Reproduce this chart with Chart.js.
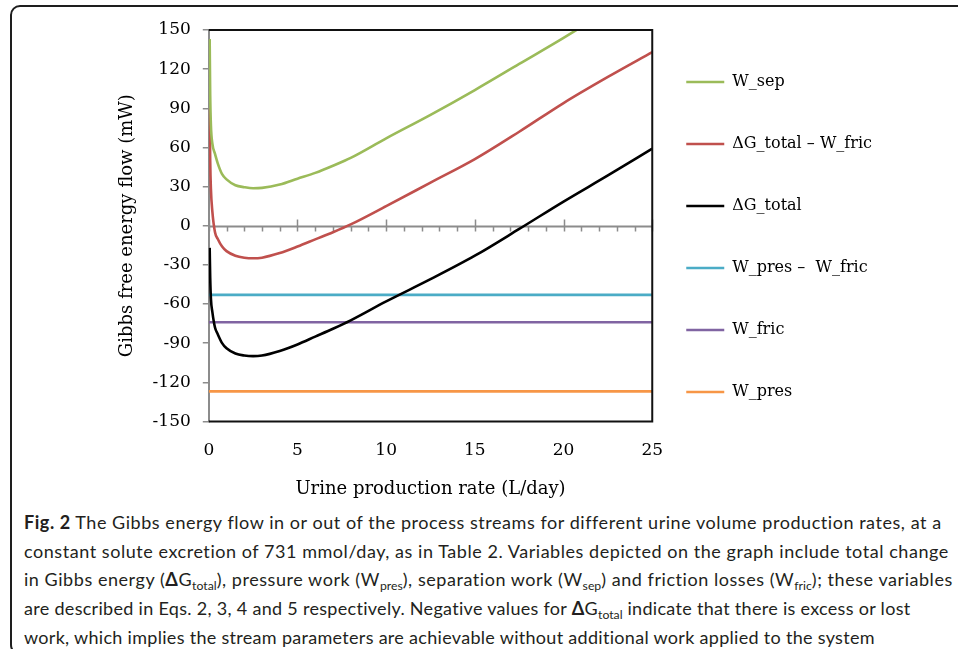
<!DOCTYPE html>
<html>
<head>
<meta charset="utf-8">
<script src="https://cdn.jsdelivr.net/npm/chart.js@4"></script>
<style>
  html, body { margin: 0; padding: 0; background: #fff; overflow: hidden; }
  body { width: 958px; height: 649px; position: relative; }
  #frame {
    position: absolute; left: 10px; top: 5px; width: 1000px; height: 646px;
    border: 2px solid #1e1e1e; border-radius: 10px;
  }
  #chartBox { position: absolute; left: 0; top: 0; width: 958px; height: 501px; }
  #caption {
    position: absolute; left: 24px; top: 508px;
    font-family: Lato, "Noto Sans", sans-serif; font-size: 18px; line-height: 28.7px;
    letter-spacing: 0.55px; color: #231f20; white-space: nowrap;
  }
  #caption div { height: 28.7px; }
  #caption .tight { letter-spacing: 0.3px; }
  #caption sub { font-size: 0.68em; line-height: 0; vertical-align: baseline; position: relative; top: 0.3em; letter-spacing: 0; }
</style>
</head>
<body>
<div id="frame"></div>
<div id="chartBox"><canvas id="gibbs-chart"></canvas></div>
<div id="caption">
  <div><b>Fig. 2</b> The Gibbs energy flow in or out of the process streams for different urine volume production rates, at a</div>
  <div>constant solute excretion of 731 mmol/day, as in Table 2. Variables depicted on the graph include total change</div>
  <div>in Gibbs energy (<b>Δ</b>G<sub>total</sub>), pressure work (W<sub>pres</sub>), separation work (W<sub>sep</sub>) and friction losses (W<sub>fric</sub>); these variables</div>
  <div class="tight">are described in Eqs. 2, 3, 4 and 5 respectively. Negative values for <b>Δ</b>G<sub>total</sub> indicate that there is excess or lost</div>
  <div class="tight">work, which implies the stream parameters are achievable without additional work applied to the system</div>
</div>
<script>
// urine production rate (L/day)
const rate = [0.05, 0.08, 0.12, 0.2, 0.35, 0.5, 0.75, 1, 1.5, 2, 2.5, 3, 4, 5, 6, 7, 8, 10, 12.5, 15, 17.5, 20, 22.5, 25];
const wSep =        [143, 100, 77, 63, 55, 48, 39.5, 35.5, 31, 29.5, 28.7, 29, 31.5, 36, 40.5, 46, 52, 67, 85, 104, 124, 144, 165, 187];
const gTotalFric =  [90, 50, 28, 11, -5, -10, -16, -19.5, -23, -24.5, -25, -24.5, -21, -16, -10.5, -5, 1, 15, 33, 51, 72, 94, 114, 133];
const gTotal =      [-17, -40, -56, -66, -78, -83, -90, -94, -98, -99.5, -100, -99.5, -96, -91, -85, -79, -72.5, -58, -41, -23, -2.5, 18.5, 38.5, 59];

// flat series
const flatRate = [0, 25];
const wPresFric = [-53, -53];
const wFric = [-74, -74];
const wPres = [-127, -127];

const yTicks = [-150, 150, 30];
const xTicks = [0, 25, 5];

const serif = 'DejaVu Serif';

function pts(xs, ys) {
  return xs.map((x, i) => ({x: x, y: ys[i]}));
}

function series(label, xs, ys, color) {
  return {
    label: label,
    data: pts(xs, ys),
    borderColor: color,
    backgroundColor: color,
    borderWidth: 2.6,
    pointRadius: 0,
    cubicInterpolationMode: 'monotone',
    fill: false
  };
}

let gibbsData = {
  datasets: [
    series('W_sep', rate, wSep, '#9BBB59'),
    series('ΔG_total – W_fric', rate, gTotalFric, '#C0504D'),
    series('ΔG_total', rate, gTotal, '#000000'),
    series('W_pres –  W_fric', flatRate, wPresFric, '#4BACC6'),
    series('W_fric', flatRate, wFric, '#8064A2'),
    series('W_pres', flatRate, wPres, '#F79646')
  ]
};

// zero line with ticks, black box on the other three sides
const plotFrame = {
  id: 'plotFrame',
  afterLayout(chart) {
    const lg = chart.legend;
    lg.left -= 12;
    lg.right -= 12;
    lg.top -= 2;
    lg.bottom -= 2;
  },
  beforeDatasetsDraw(chart) {
    const {ctx, chartArea: a, scales: {x, y}} = chart;
    const y0 = Math.round(y.getPixelForValue(0)) + 0.5;
    ctx.save();
    ctx.strokeStyle = '#8c8c8c';
    ctx.lineWidth = 2;
    ctx.beginPath();
    ctx.moveTo(a.left, y0);
    ctx.lineTo(a.right, y0);
    ctx.stroke();
    ctx.lineWidth = 1.5;
    ctx.beginPath();
    for (let v = xTicks[0]; v <= xTicks[1]; v++) {
      const px = Math.round(x.getPixelForValue(v)) + 0.5;
      if (v % xTicks[2] === 0) {
        ctx.moveTo(px, y0 - 7);
        ctx.lineTo(px, y0 + 5);
      } else {
        ctx.moveTo(px, y0);
        ctx.lineTo(px, y0 + 5);
      }
    }
    ctx.stroke();
    ctx.restore();
  },
  afterDatasetsDraw(chart) {
    const {ctx, chartArea: a} = chart;
    ctx.save();
    ctx.strokeStyle = '#111';
    ctx.lineWidth = 2;
    ctx.beginPath();
    ctx.moveTo(a.left, a.top);
    ctx.lineTo(a.right, a.top);
    ctx.lineTo(a.right, a.bottom);
    ctx.lineTo(a.left, a.bottom);
    ctx.stroke();
    ctx.restore();
  }
};

let gibbsOptions = {
  responsive: true,
  maintainAspectRatio: false,
  animation: false,
  layout: {
    padding: {left: 110, top: 30, right: 64, bottom: 0}
  },
  scales: {
    x: {
      type: 'linear',
      min: xTicks[0],
      max: xTicks[1],
      grid: {display: false, drawTicks: false},
      border: {display: false},
      ticks: {stepSize: xTicks[2], padding: 20.5, color: '#000', font: {family: serif, size: 17, lineHeight: 1}},
      title: {
        display: true,
        text: 'Urine production rate (L/day)',
        color: '#000',
        font: {family: serif, size: 18},
        padding: {top: -1, bottom: 1}
      }
    },
    y: {
      min: yTicks[0],
      max: yTicks[1],
      grid: {drawOnChartArea: false, color: '#8c8c8c', lineWidth: 1.5, tickLength: 6},
      border: {color: '#8c8c8c', width: 2},
      ticks: {stepSize: yTicks[2], padding: 12, color: '#000', font: {family: serif, size: 17}},
      title: {
        display: true,
        text: 'Gibbs free energy flow (mW)',
        color: '#000',
        font: {family: serif, size: 18},
        padding: {top: 7, bottom: 2}
      }
    }
  },
  plugins: {
    legend: {
      position: 'right',
      align: 'start',
      maxWidth: 300,
      labels: {
        usePointStyle: true,
        pointStyle: 'line',
        pointStyleWidth: 38,
        padding: 46,
        color: '#000',
        font: {family: serif, size: 16}
      }
    },
    tooltip: {enabled: false}
  }
};

let gibbsChart = new Chart(document.getElementById('gibbs-chart'), {
  type: 'line',
  data: gibbsData,
  options: gibbsOptions,
  plugins: [plotFrame]
});
</script>
</body>
</html>
